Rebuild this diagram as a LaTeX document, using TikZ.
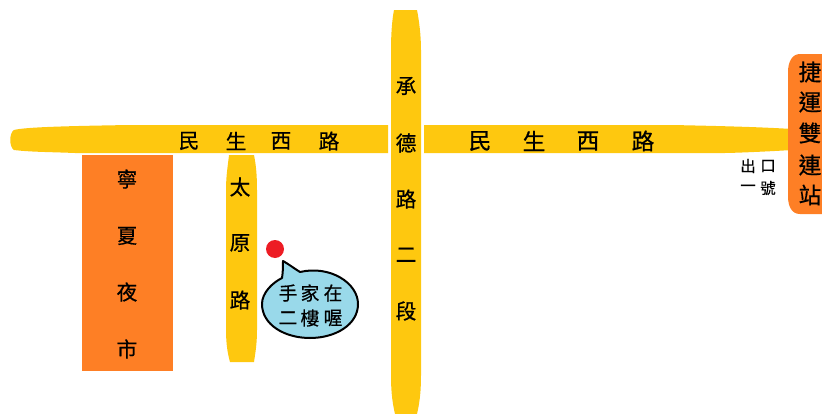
\documentclass[tikz,border=0pt]{standalone}
\usepackage{fontspec}
\setmainfont{Noto Sans CJK TC}[FakeBold=0.6]
\definecolor{road}{HTML}{FEC80F}
\definecolor{block}{HTML}{FE7F25}
\definecolor{bubblecol}{HTML}{99D9EA}
\definecolor{pincol}{HTML}{ED1C24}
\tikzset{
  roadfill/.style={fill=road,draw=none},
  blockfill/.style={fill=block,draw=none},
  glyph/.style={inner sep=0pt,text=black,font=\fontsize{15.5}{16}\selectfont},
  bigglyph/.style={glyph,font=\fontsize{17}{18}\selectfont},
  smallglyph/.style={glyph,font=\fontsize{11.5}{12}\selectfont},
  bubbleglyph/.style={glyph,font=\fontsize{14}{15}\selectfont}
}
\begin{document}
\begin{tikzpicture}[x=0.75pt,y=-0.75pt]
\useasboundingbox (0,0) rectangle (822,414);
% Min Sheng W. Rd, left part
\fill[roadfill] (388,125) -- (130,125) .. controls (70,126) and (25,127) .. (14,130) .. controls (9,133) and (9,147) .. (14,150) .. controls (30,152) and (50,152) .. (75,153) -- (388,153) -- cycle;
% Min Sheng W. Rd, right part
\fill[roadfill] (424,125) -- (672,125) .. controls (720,126) and (760,127) .. (792,129) -- (792,150) .. controls (760,152) and (730,153) .. (725,153) -- (424,153) -- cycle;
% Cheng De Rd
\fill[roadfill] (394,10) -- (417,10) .. controls (419,20) and (421,35) .. (421,50) -- (421,375) .. controls (421,395) and (419,405) .. (417,414) -- (395,414) .. controls (393,405) and (391,395) .. (391,375) -- (391,50) .. controls (391,35) and (392,20) .. (394,10) -- cycle;
% Tai Yuan Rd
\fill[roadfill] (229,155) -- (254,155) .. controls (256,165) and (257,175) .. (257,190) -- (257,330) .. controls (257,345) and (255,355) .. (254,362) -- (230,362) .. controls (228,355) and (226,345) .. (226,330) -- (226,190) .. controls (226,175) and (228,165) .. (229,155) -- cycle;
% Night market
\fill[blockfill] (82,155) rectangle (173,371);
% Station
\fill[blockfill] (822,54) -- (800,54) .. controls (792,54) and (788,62) .. (788,72) -- (788,196) .. controls (788,207) and (792,214) .. (800,214) -- (822,214) -- cycle;
% Pin
\fill[fill=pincol] (275,249) circle (9);
% Bubble
\draw[fill=bubblecol,draw=black,line width=1.5pt,line join=round]
  (283,261) .. controls (290,265) and (295,269) .. (300,272)
  .. controls (330,265) and (358,283) .. (358,304)
  .. controls (358,325) and (335,338) .. (310,338)
  .. controls (285,338) and (262,325) .. (262,304)
  .. controls (262,293) and (272,283) .. (282,278)
  .. controls (283,272) and (283,266) .. (283,261) -- cycle;
% Labels
\node[glyph] (a1) at (189,141) {民};
\node[glyph] (a2) at (236,141) {生};
\node[glyph] (a3) at (281,141) {西};
\node[glyph] (a4) at (329,141) {路};
\node[bigglyph] (b1) at (480,141) {民};
\node[bigglyph] (b2) at (534,141) {生};
\node[bigglyph] (b3) at (588,141) {西};
\node[bigglyph] (b4) at (643,141) {路};
\node[glyph] (c1) at (406,86) {承};
\node[glyph] (c2) at (406,143) {德};
\node[glyph] (c3) at (406,199) {路};
\node[glyph] (c4) at (406,255) {二};
\node[glyph] (c5) at (406,311) {段};
\node[glyph] (d1) at (240,187) {太};
\node[glyph] (d2) at (240,243) {原};
\node[glyph] (d3) at (240,300) {路};
\node[glyph] (e1) at (127,179) {寧};
\node[glyph] (e2) at (127,236) {夏};
\node[glyph] (e3) at (127,292) {夜};
\node[glyph] (e4) at (127,349) {市};
\node[bigglyph] (f1) at (810,72) {捷};
\node[bigglyph] (f2) at (810,102) {運};
\node[bigglyph] (f3) at (810,133) {雙};
\node[bigglyph] (f4) at (810,165) {連};
\node[bigglyph] (f5) at (810,195) {站};
\node[smallglyph] (g1) at (748,166) {出};
\node[smallglyph] (g2) at (768,166) {口};
\node[smallglyph] (g3) at (748,188) {一};
\node[smallglyph] (g4) at (768,188) {號};
\node[bubbleglyph] (h1) at (288,293) {手};
\node[bubbleglyph] (h2) at (310,293) {家};
\node[bubbleglyph] (h3) at (333,293) {在};
\node[bubbleglyph] (h4) at (288,318) {二};
\node[bubbleglyph] (h5) at (310,318) {樓};
\node[bubbleglyph] (h6) at (333,318) {喔};
\end{tikzpicture}
\end{document}
